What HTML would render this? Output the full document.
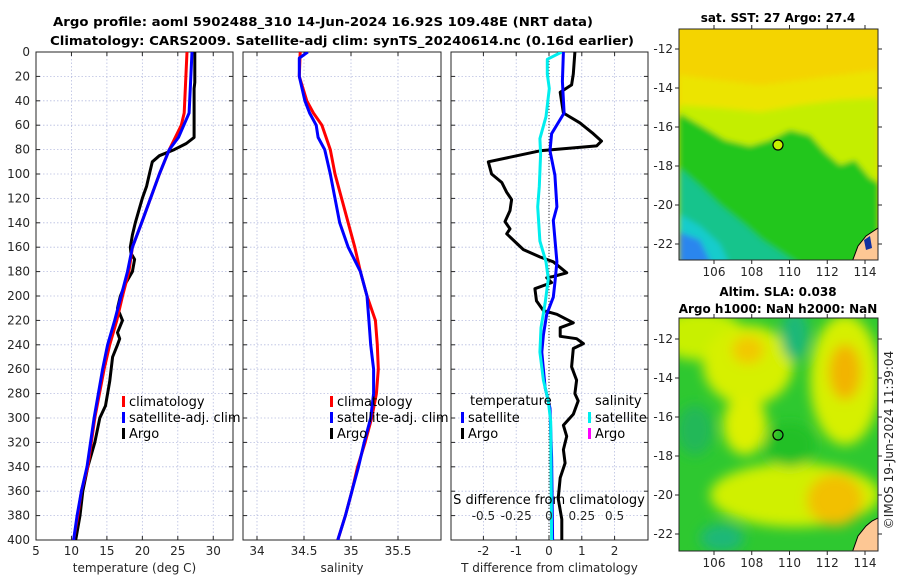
<!DOCTYPE html>
<html><head><meta charset="utf-8"><style>
body{margin:0;background:#fff;}
svg{display:block;font-family:"DejaVu Sans","Liberation Sans",sans-serif;}
.tk{font-size:12px;fill:#262626;}
.ttl{font-size:12px;font-weight:bold;fill:#000;}
.lg{font-size:13px;fill:#000;}
.grid{stroke:#b8bee0;stroke-width:0.8;stroke-dasharray:1.5,2;}
.ax{fill:none;stroke:#262626;stroke-width:1;}
</style></head><body>
<svg id="fig" width="900" height="580" viewBox="0 0 900 580" xmlns="http://www.w3.org/2000/svg">
<defs>
<clipPath id="c1"><rect x="36" y="52" width="197" height="488"/></clipPath>
<clipPath id="c2"><rect x="243" y="52" width="198" height="488"/></clipPath>
<clipPath id="c3"><rect x="451" y="52" width="197" height="488"/></clipPath>
<clipPath id="m1"><rect x="679" y="29" width="199" height="231"/></clipPath>
<clipPath id="m2"><rect x="679" y="318" width="199" height="233"/></clipPath>
<filter id="bl" x="-20%" y="-20%" width="140%" height="140%"><feGaussianBlur stdDeviation="3"/></filter>
<filter id="bl2" x="-50%" y="-50%" width="200%" height="200%"><feGaussianBlur stdDeviation="6"/></filter>
</defs>
<text class="ttl" x="323" y="26" text-anchor="middle" textLength="540" lengthAdjust="spacingAndGlyphs">Argo profile: aoml 5902488_310 14-Jun-2024 16.92S 109.48E (NRT data)</text>
<text class="ttl" x="342" y="45" text-anchor="middle" textLength="584" lengthAdjust="spacingAndGlyphs">Climatology: CARS2009. Satellite-adj clim: synTS_20240614.nc (0.16d earlier)</text>

<g>
<g clip-path="url(#m1)">
<rect x="679" y="29" width="199" height="231" fill="#f4d400"/>
<g filter="url(#bl)">
<polygon fill="#ece400" points="679,75 760,85 800,80 878,70 878,120 679,120"/>
<polygon fill="#c4ee00" points="679,105 720,108 760,112 800,105 840,100 878,98 878,200 679,200"/>
<polygon fill="#20c61c" points="679,113 700,125 725,140 750,146 770,140 790,130 810,135 825,152 840,165 855,160 870,178 878,182 878,265 679,265"/>
<polygon fill="#18c48c" points="679,168 700,186 720,205 745,225 762,240 800,265 679,265"/>
<polygon fill="#18cccc" points="679,214 700,226 720,244 730,265 679,265"/>
<polygon fill="#2a86ee" points="679,232 700,240 712,265 679,265"/>
</g>
<polygon fill="#fdc794" stroke="#000" stroke-width="1" points="852,262 858,246 866,236 872,232 878,228 878,262"/>
<polygon fill="#1030a0" points="864,240 870,236 872,248 866,250"/>
</g>
<rect class="ax" x="679" y="29" width="199" height="231"/>
<circle cx="778" cy="145" r="5" fill="#c8f000" stroke="#000" stroke-width="1.2"/>
<text class="ttl" x="778" y="22" text-anchor="middle">sat. SST: 27 Argo: 27.4</text>
<g id="m1ticks"></g>
</g>

<g>
<g clip-path="url(#m2)">
<rect x="679" y="318" width="199" height="233" fill="#2ec830"/>
<g filter="url(#bl2)">
<ellipse cx="700" cy="335" rx="45" ry="25" fill="#c8f000"/>
<ellipse cx="748" cy="365" rx="45" ry="40" fill="#d6f000"/>
<ellipse cx="748" cy="350" rx="16" ry="14" fill="#f2c800"/>
<ellipse cx="845" cy="380" rx="35" ry="65" fill="#d6f000"/>
<ellipse cx="845" cy="372" rx="16" ry="28" fill="#f2b400"/>
<ellipse cx="745" cy="425" rx="22" ry="30" fill="#dcf000"/>
<ellipse cx="795" cy="495" rx="85" ry="32" fill="#d0f000"/>
<ellipse cx="835" cy="500" rx="28" ry="26" fill="#f2c000"/>
<ellipse cx="795" cy="335" rx="14" ry="26" fill="#1cb878"/>
<ellipse cx="695" cy="430" rx="18" ry="25" fill="#22b858"/>
<ellipse cx="722" cy="538" rx="22" ry="14" fill="#1ab878"/>
<ellipse cx="790" cy="445" rx="25" ry="22" fill="#20c028"/>
</g>
<polygon fill="#fdc794" stroke="#000" stroke-width="1" points="852,553 858,536 866,526 872,521 878,518 878,553"/>
</g>
<rect class="ax" x="679" y="318" width="199" height="233"/>
<circle cx="778" cy="435" r="5" fill="none" stroke="#000" stroke-width="1.2"/>
<text class="ttl" x="778" y="296" text-anchor="middle">Altim. SLA: 0.038</text>
<text class="ttl" x="778" y="313" text-anchor="middle">Argo h1000: NaN h2000: NaN</text>
<g id="m2ticks"></g>
</g>
<text class="tk" transform="translate(893,440) rotate(-90)" text-anchor="middle" font-size="12">©IMOS 19-Jun-2024 11:39:04</text>

<g id="p1"></g>
<g id="p2"></g>
<g id="p3"></g>
</svg>
<script>
// ---- data ----
const depthTick = [0,20,40,60,80,100,120,140,160,180,200,220,240,260,280,300,320,340,360,380,400];
const tempTicks = [5,10,15,20,25,30];
const salTicks = [34,34.5,35,35.5];
const tdiffTicks = [-2,-1,0,1,2];
const sdiffTicks = [-0.5,-0.25,0,0.25,0.5];
const sdiffLabels = ["-0.5","-0.25","0","0.25","0.5"];

const climT_depth = [0,50,60,80,100,140,160,180,200,220,240,260,300,340,360,380,400];
const climT = [26.3,25.9,25.5,23.8,22.4,19.9,18.6,18.1,17.2,16.4,15.4,14.6,13.3,12.3,11.4,10.9,10.3];
const satT_depth = [0,50,70,80,100,140,160,180,200,220,240,260,300,340,360,380,400];
const satT = [27.0,26.6,25.1,23.8,22.4,19.9,18.6,17.9,17.0,16.1,15.1,14.4,13.2,12.2,11.4,10.8,10.3];
const argoT_depth = [0,25,30,70,75,80,85,90,100,110,120,130,140,150,160,165,170,180,190,200,210,220,230,235,240,250,270,290,300,320,340,360,380,400];
const argoT = [27.4,27.4,27.3,27.3,26.2,24.5,22.4,21.4,21.0,20.6,20.0,19.5,19.0,18.6,18.3,18.4,18.9,18.6,17.6,16.9,16.5,17.2,16.5,16.8,16.5,15.8,15.4,14.8,14.0,13.3,12.3,11.6,11.2,10.6];

const climS_depth = [0,20,40,50,60,80,100,120,140,160,180,200,220,240,260,280,300,320,340,360,380,400];
const climS = [34.46,34.45,34.53,34.6,34.69,34.78,34.83,34.9,34.97,35.04,35.1,35.17,35.26,35.28,35.29,35.27,35.22,35.15,35.07,35.01,34.94,34.86];
const satS_depth = [0,5,20,40,50,60,70,80,100,120,140,160,180,200,220,240,260,280,300,320,340,360,380,400];
const satS = [34.54,34.45,34.45,34.51,34.56,34.63,34.65,34.72,34.78,34.83,34.88,34.97,35.1,35.17,35.19,35.21,35.24,35.24,35.21,35.14,35.08,35.01,34.94,34.86];

const dArgoT_depth = [0,18,27,33,50,58,67,73,77,81,90,100,107,115,121,130,139,145,149,157,162,168,172,181,184,185,189,194,204,212,215,222,226,233,235,239,243,258,269,280,286,297,306,315,326,337,349,366,383,400];
const dArgoT = [0.79,0.74,0.69,0.34,0.44,0.94,1.35,1.6,1.45,-0.27,-1.85,-1.75,-1.44,-1.29,-1.14,-1.19,-1.34,-1.19,-1.29,-0.98,-0.78,-0.27,0.13,0.54,0.13,-0.07,0.08,-0.43,-0.38,-0.17,0.24,0.74,0.34,0.34,0.84,1.05,0.74,0.69,0.84,0.79,0.89,0.74,0.44,0.54,0.44,0.49,0.34,0.28,0.39,0.39];
const dSatT_depth = [0,24,50,67,81,101,127,138,172,189,201,215,232,246,275,292,332,400];
const dSatT = [0.44,0.41,0.46,0.08,0.03,0.18,0.24,0.13,0.24,0.18,0.13,-0.07,-0.17,-0.22,-0.12,0.03,0.08,0.11];
const dSatS_depth = [0,6,18,30,53,71,84,110,127,155,172,186,206,226,246,269,286,303,400];
const dSatS = [0.097,-0.013,-0.013,0.002,-0.023,-0.069,-0.064,-0.074,-0.086,-0.069,-0.023,-0.005,-0.03,-0.061,-0.069,-0.043,-0.005,0.013,0.02];

const lonTicks = [106,108,110,112,114];
const latTicks = [-12,-14,-16,-18,-20,-22];

// ---- helpers ----
const NS = "http://www.w3.org/2000/svg";
const yD = d => 52 + d*1.22;
const xT = t => 36 + (t-5)*7.09;
const xS = s => 257 + (s-34)*94;
const xDT = t => 549 + t*32.8;
const xDS = s => 549 + s*131.2;
function mk(tag, parent, attrs){const e=document.createElementNS(NS,tag);for(const k in attrs)e.setAttribute(k,attrs[k]);parent.appendChild(e);return e;}

function panel(g, x0, x1, xticks, xf, xlabels, xtitle, showY, clip){
  const y0=52,y1=540;
  for(const d of depthTick){ if(d>0&&d<400){
    const l=mk('line',g,{x1:x0,x2:x1,y1:yD(d),y2:yD(d),class:'grid'});
    
    
  }}
  xticks.forEach(v=>{const x=xf(v); if(x>x0+1&&x<x1-1){
    const l=mk('line',g,{x1:x,x2:x,y1:y0,y2:y1,class:'grid'});
    
    
  }});
  const r=mk('rect',g,{x:x0,y:y0,width:x1-x0,height:y1-y0,class:'ax'});
  
  
  for(const d of depthTick){
    mk('line',g,{x1:x0,x2:x0+4,y1:yD(d),y2:yD(d),class:'ax'});
    mk('line',g,{x1:x1,x2:x1-4,y1:yD(d),y2:yD(d),class:'ax'});
    if(showY){const t=mk('text',g,{x:x0-6,y:yD(d)+4,'text-anchor':'end',class:'tk'});t.textContent=d;
      
      }
  }
  xticks.forEach((v,i)=>{const x=xf(v);
    mk('line',g,{x1:x,x2:x,y1:y1,y2:y1-4,class:'ax'});
    mk('line',g,{x1:x,x2:x,y1:y0,y2:y0+4,class:'ax'});
    const t=mk('text',g,{x:x,y:y1+15,'text-anchor':'middle',class:'tk'});t.textContent=xlabels[i];
    
    
  });
  const tt=mk('text',g,{x:(x0+x1)/2,y:572,'text-anchor':'middle',class:'tk','font-size':'13'});tt.textContent=xtitle;
  
  
}
function series(g, depths, vals, xf, color, name, clip){
  const pts=depths.map((d,i)=>xf(vals[i]).toFixed(1)+','+yD(d).toFixed(1)).join(' ');
  const p=mk('polyline',g,{points:pts,fill:'none',stroke:color,'stroke-width':3,'stroke-linejoin':'round','clip-path':'url(#'+clip+')'});
  
  
}
function legend(g,x,y,color,label){
  mk('rect',g,{x:x-2,y:y-9,width:3,height:11,fill:color});
  const t=mk('text',g,{x:x+5,y:y+1,class:'lg'});t.textContent=label;
  
  
}

const p1=document.getElementById('p1');
panel(p1,36,233,tempTicks,xT,tempTicks.map(String),'temperature (deg C)',true,'c1');
series(p1,argoT_depth,argoT,xT,'#000','argo-temperature-line','c1');
series(p1,climT_depth,climT,xT,'#ff0000','climatology-temperature-line','c1');
series(p1,satT_depth,satT,xT,'#0000ff','satellite-temperature-line','c1');
legend(p1,124,405,'#ff0000','climatology');
legend(p1,124,421,'#0000ff','satellite-adj. clim');
legend(p1,124,437,'#000','Argo');

const p2=document.getElementById('p2');
panel(p2,243,441,salTicks,xS,salTicks.map(String),'salinity',false,'c2');
series(p2,climS_depth,climS,xS,'#ff0000','climatology-salinity-line','c2');
series(p2,satS_depth,satS,xS,'#0000ff','satellite-salinity-line','c2');
legend(p2,332,405,'#ff0000','climatology');
legend(p2,332,421,'#0000ff','satellite-adj. clim');
legend(p2,332,437,'#000','Argo');

const p3=document.getElementById('p3');
panel(p3,451,648,tdiffTicks,xDT,tdiffTicks.map(String),'T difference from climatology',false,'c3');
const zl=mk('line',p3,{x1:xDT(0),x2:xDT(0),y1:52,y2:540,stroke:'#333','stroke-width':1,'stroke-dasharray':'1,2'});


series(p3,dArgoT_depth,dArgoT,xDT,'#000','argo-tdiff-line','c3');
series(p3,dSatT_depth,dSatT,xDT,'#0000ff','satellite-tdiff-line','c3');
series(p3,dSatS_depth,dSatS,xDS,'#00eeee','satellite-sdiff-line','c3');
{const t=mk('text',p3,{x:470,y:405,class:'lg'});t.textContent='temperature';


const t2=mk('text',p3,{x:595,y:405,class:'lg'});t2.textContent='salinity';

}
legend(p3,463,421,'#0000ff','satellite');
legend(p3,463,437,'#000','Argo');
legend(p3,590,421,'#00eeee','satellite');
legend(p3,590,437,'#ff00ff','Argo');
{const t=mk('text',p3,{x:549,y:504,'text-anchor':'middle',class:'lg'});t.textContent='S difference from climatology';

}
sdiffTicks.forEach((v,i)=>{const t=mk('text',p3,{x:xDS(v),y:520,'text-anchor':'middle',class:'tk'});t.textContent=sdiffLabels[i];

});

function mapTicks(g, top, bottom, lat12y, lat22y){
  const xL=lon=>714+(lon-106)*18.875;
  const yL=lat=>lat12y+(-12-lat)*(lat22y-lat12y)/10;
  lonTicks.forEach(v=>{const x=xL(v);
    mk('line',g,{x1:x,x2:x,y1:bottom,y2:bottom+4,class:'ax'});
    mk('line',g,{x1:x,x2:x,y1:top,y2:top-4,class:'ax'});
    const t=mk('text',g,{x:x,y:bottom+16,'text-anchor':'middle',class:'tk'});t.textContent=v;
    
    });
  latTicks.forEach(v=>{const y=yL(v);
    mk('line',g,{x1:679,x2:675,y1:y,y2:y,class:'ax'});
    mk('line',g,{x1:878,x2:882,y1:y,y2:y,class:'ax'});
    const t=mk('text',g,{x:673,y:y+4,'text-anchor':'end',class:'tk'});t.textContent=v;
    
    });
}
mapTicks(document.getElementById('m1ticks'),29,260,49,244);
mapTicks(document.getElementById('m2ticks'),318,551,339,534);
</script>
</body></html>
